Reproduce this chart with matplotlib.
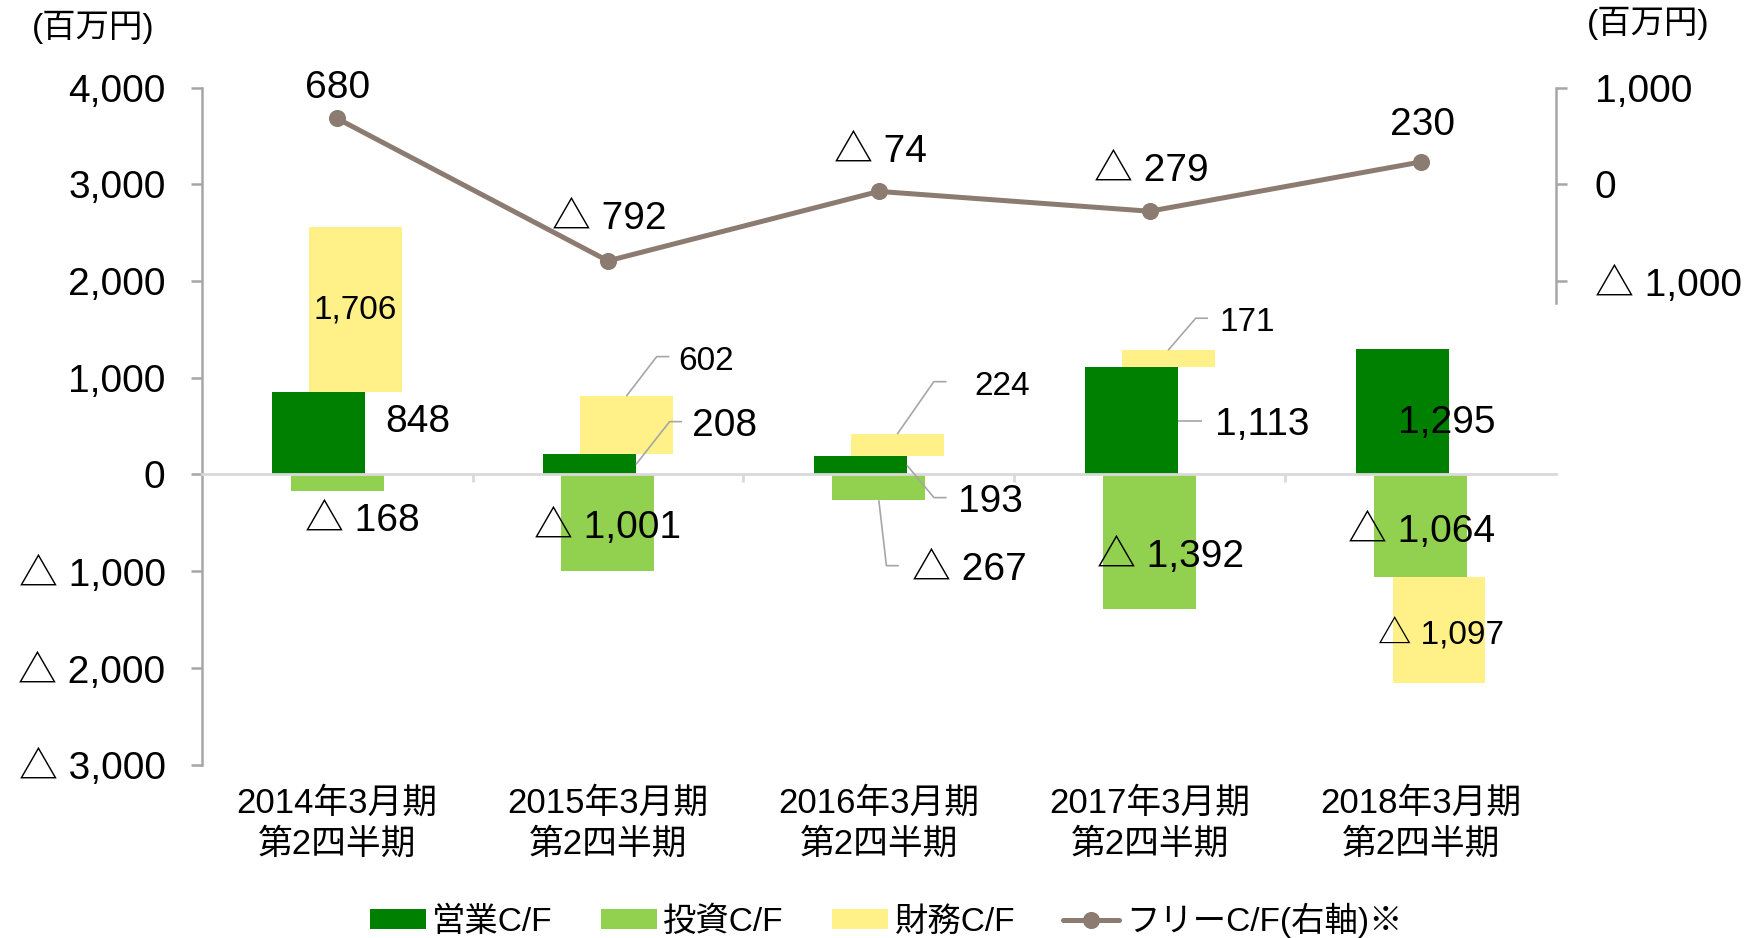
import numpy as np
import matplotlib
matplotlib.use("Agg")
import matplotlib.pyplot as plt
from matplotlib.ticker import FuncFormatter

plt.rcParams['font.family'] = ['Liberation Sans', 'Noto Sans CJK JP']

### Data
### ----
categories = ["2014年3月期\n第2四半期", "2015年3月期\n第2四半期", "2016年3月期\n第2四半期",
              "2017年3月期\n第2四半期", "2018年3月期\n第2四半期"]
op_cf = np.array([848, 208, 193, 1113, 1295])          # 営業C/F
inv_cf = np.array([-168, -1001, -267, -1392, -1064])   # 投資C/F
fin_cf = np.array([1706, 602, 224, 171, -1097])        # 財務C/F
free_cf = np.array([680, -792, -74, -279, 230])        # フリーC/F (right axis)
series_names = ["営業C/F", "投資C/F", "財務C/F", "フリーC/F(右軸)※"]

### Styles
### ------
C_OP, C_INV, C_FIN, C_FREE = "#008000", "#92D050", "#FFF087", "#8C7B70"
GRAY, LIGHT = "#A6A6A6", "#D9D9D9"
W, OFF = 0.343, 0.068
BIG, SMALL = 28, 24
SHIFT = -3.3  # points, nudges label ink down to sit like the original


def fmt(v, pos=None):
    return f"△ {abs(v):,.0f}" if v < 0 else f"{v:,.0f}"


def label(a, xv, yv, v, size, ha='center'):
    a.annotate(fmt(v), (xv, yv), xytext=(0, SHIFT), textcoords='offset points',
               ha=ha, va='center', fontsize=size, zorder=4, annotation_clip=False)


### Figure / axes
### -------------
fig = plt.figure(figsize=(17.58, 9.38), dpi=100)
ax = fig.add_axes([0.1147, 0.1848, 0.7704, 0.7219])
ax2 = ax.twinx()

x = np.arange(len(categories))

### Bars (financing stacks on operating when positive, on investing when negative)
fin_bottom = np.where(fin_cf >= 0, op_cf, inv_cf)
ax.bar(x - OFF, op_cf, W, color=C_OP, label=series_names[0], zorder=1)
ax.bar(x, inv_cf, W, color=C_INV, label=series_names[1], zorder=1)
ax.bar(x + OFF, fin_cf, W, bottom=fin_bottom, color=C_FIN, label=series_names[2], zorder=1)

### Free C/F line
ax2.plot(x, free_cf, color=C_FREE, lw=3.6, marker='o', ms=11.3, label=series_names[3],
         solid_capstyle='round')

### Axes decoration
ax.set_xlim(-0.5, len(categories) - 0.5)
ax.set_ylim(-3000, 4000)
ax.set_yticks(np.arange(-3000, 4001, 1000))
ax.yaxis.set_major_formatter(FuncFormatter(fmt))
ax.set_xticks(x[:-1] + 0.5)
ax.tick_params(axis='x', length=6, width=2, color=LIGHT, direction='out', labelbottom=False)
ax.tick_params(axis='y', length=8, width=1.8, color=GRAY, labelsize=BIG, pad=18)
for s in ['top', 'right']:
    ax.spines[s].set_visible(False)
ax.spines['left'].set_color(GRAY)
ax.spines['left'].set_linewidth(1.8)
ax.spines['bottom'].set_position(('data', 0))
ax.spines['bottom'].set_color(LIGHT)
ax.spines['bottom'].set_linewidth(2)

ax2.set_ylim(-6000, 1000)
ax2.set_yticks([-1000, 0, 1000])
ax2.yaxis.set_major_formatter(FuncFormatter(fmt))
ax2.tick_params(axis='y', length=8, width=1.8, color=GRAY, labelsize=BIG, pad=20)
for s in ['top', 'left', 'bottom']:
    ax2.spines[s].set_visible(False)
ax2.spines['right'].set_color(GRAY)
ax2.spines['right'].set_linewidth(1.8)
ax2.spines['right'].set_bounds(-1230, 1000)

### Category labels
for i, lab in enumerate(categories):
    ax.text(i, -0.032, lab, transform=ax.get_xaxis_transform(), ha='center', va='top',
            fontsize=25, linespacing=1.32)

### Unit labels
fig.text(0.0530, 0.971, "(百万円)", ha='center', va='center', fontsize=24)
fig.text(0.9375, 0.975, "(百万円)", ha='center', va='center', fontsize=24)

### Free C/F labels (right axis)
free_label_y = [1039, -308, 385, 189, 664]
for i, v in enumerate(free_cf):
    label(ax2, i + 0.006 * (i > 0), free_label_y[i], v, BIG)


### Leader-line labels
### ------------------
def leader(x0, y0, dx_elbow, dy_elbow, dx_end, dx_text, v, size):
    xs = [x0, x0 + dx_elbow, x0 + dx_end]
    ys = [y0, y0 + dy_elbow, y0 + dy_elbow]
    ax.plot(xs, ys, color=GRAY, lw=1.2, zorder=3, solid_capstyle='butt')
    label(ax, x0 + dx_text, y0 + dy_elbow, v, size, ha='left')


fin_top = fin_bottom + fin_cf
op_edge = x - OFF + W / 2

# 2014
label(ax, x[0] + OFF, fin_bottom[0] + fin_cf[0] / 2 + 50, fin_cf[0], SMALL)
label(ax, x[0] + 0.178, op_cf[0] * 0.695, op_cf[0], BIG, ha='left')
label(ax, x[0] + 0.095, inv_cf[0] - 268, inv_cf[0], BIG)
# 2015
leader(x[1] + OFF, fin_top[1], 0.112, 408, 0.159, 0.192, fin_cf[1], SMALL)
leader(op_edge[1], op_cf[1] / 2, 0.124, 442, 0.170, 0.207, op_cf[1], BIG)
label(ax, x[1], inv_cf[1] / 2, inv_cf[1], BIG)
# 2016
leader(x[2] + OFF, fin_top[2], 0.135, 542, 0.182, 0.286, fin_cf[2], SMALL)
leader(op_edge[2], op_cf[2] / 2, 0.100, -336, 0.147, 0.189, op_cf[2], BIG)
leader(x[2], inv_cf[2], 0.028, -676, 0.074, 0.122, inv_cf[2], BIG)
# 2017
leader(x[3] + OFF, fin_top[3], 0.102, 331, 0.147, 0.190, fin_cf[3], SMALL)
leader(op_edge[3], op_cf[3] / 2, 0.0, 0, 0.091, 0.138, op_cf[3], BIG)
label(ax, x[3] + 0.078, inv_cf[3] / 2 - 102, inv_cf[3], BIG)
# 2018
label(ax, x[4] + 0.096, op_cf[4] / 2 - 73, op_cf[4], BIG)
label(ax, x[4] + 0.004, inv_cf[4] / 2 - 14, inv_cf[4], BIG)
label(ax, x[4] + OFF + 0.007, fin_bottom[4] + fin_cf[4] / 2, fin_cf[4], SMALL)

### Legend
h1, l1 = ax.get_legend_handles_labels()
h2, l2 = ax2.get_legend_handles_labels()
fig.legend(h1 + h2, l1 + l2, loc='center', bbox_to_anchor=(0.504, 0.019), ncol=4,
           frameon=False, fontsize=24, handlelength=1.67, handleheight=0.54,
           handletextpad=0.2, columnspacing=1.45, borderpad=0)

fig.savefig("out.png", dpi=100)
